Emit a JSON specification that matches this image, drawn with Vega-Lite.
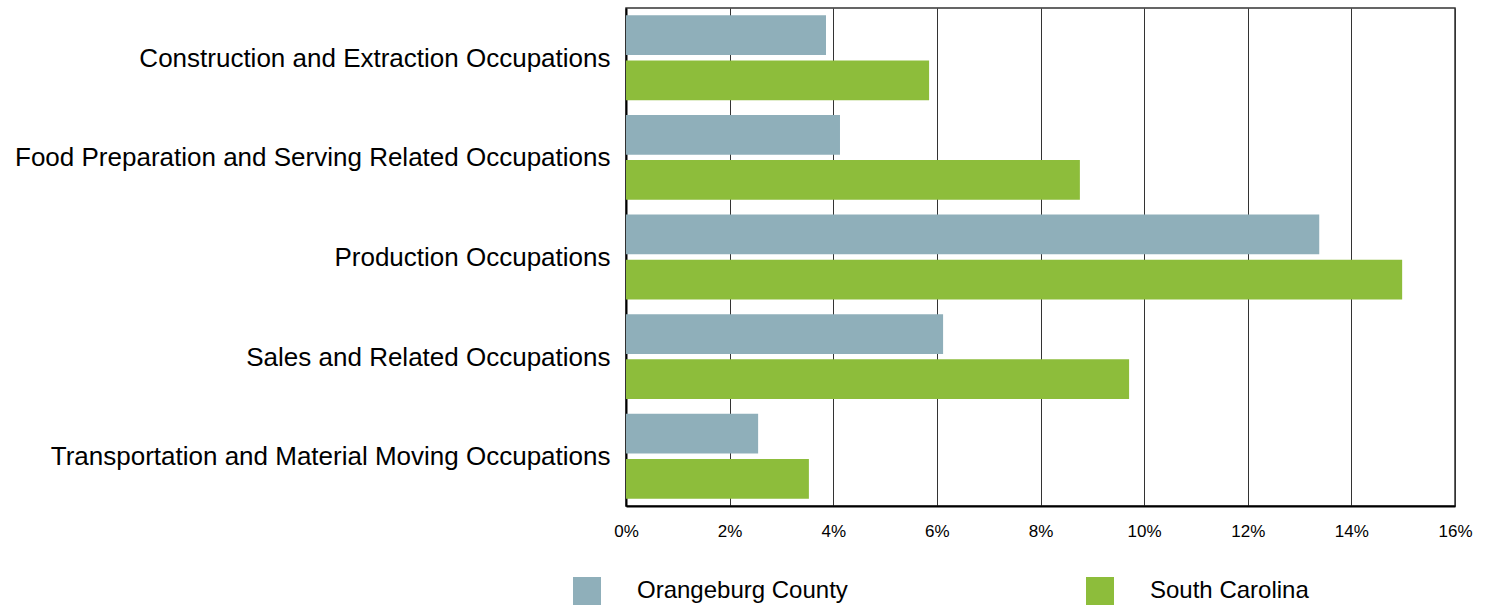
{
  "$schema": "https://vega.github.io/schema/vega-lite/v6.json",
  "autosize": {"type": "none"},
  "padding": {"left": 626, "top": 8, "right": 31, "bottom": 100},
  "width": 829,
  "height": 498,
  "background": "white",
  "config": {
    "font": "Liberation Sans",
    "view": {"stroke": "#333333", "strokeWidth": 1.5}
  },
  "data": {
    "values": [
      {"occupation": "Construction and Extraction Occupations", "area": "Orangeburg County", "share": 0.0386},
      {"occupation": "Construction and Extraction Occupations", "area": "South Carolina", "share": 0.0585},
      {"occupation": "Food Preparation and Serving Related Occupations", "area": "Orangeburg County", "share": 0.0413},
      {"occupation": "Food Preparation and Serving Related Occupations", "area": "South Carolina", "share": 0.0876},
      {"occupation": "Production Occupations", "area": "Orangeburg County", "share": 0.1338},
      {"occupation": "Production Occupations", "area": "South Carolina", "share": 0.1498},
      {"occupation": "Sales and Related Occupations", "area": "Orangeburg County", "share": 0.0612},
      {"occupation": "Sales and Related Occupations", "area": "South Carolina", "share": 0.0971},
      {"occupation": "Transportation and Material Moving Occupations", "area": "Orangeburg County", "share": 0.0255},
      {"occupation": "Transportation and Material Moving Occupations", "area": "South Carolina", "share": 0.0353}
    ]
  },
  "mark": {"type": "bar"},
  "encoding": {
    "y": {
      "field": "occupation",
      "type": "nominal",
      "sort": null,
      "title": null,
      "scale": {"paddingInner": 0.147, "paddingOuter": 0.073},
      "axis": {
        "labelFontSize": 26,
        "labelColor": "#000000",
        "labelPadding": 16,
        "labelLimit": 700,
        "labelBaseline": "middle",
        "labelOffset": 1,
        "ticks": false,
        "domainColor": "#000000",
        "domainWidth": 2,
        "grid": false
      }
    },
    "yOffset": {
      "field": "area",
      "type": "nominal",
      "scale": {"paddingInner": 0.12}
    },
    "x": {
      "field": "share",
      "type": "quantitative",
      "title": null,
      "scale": {"domain": [0, 0.16], "nice": false},
      "axis": {
        "values": [0, 0.02, 0.04, 0.06, 0.08, 0.1, 0.12, 0.14, 0.16],
        "format": ".0%",
        "labelFontSize": 17,
        "labelColor": "#000000",
        "labelPadding": 17,
        "labelFlush": false,
        "labelOverlap": false,
        "ticks": false,
        "domainColor": "#000000",
        "domainWidth": 2,
        "grid": true,
        "gridColor": "#333333",
        "gridWidth": 1,
        "gridOpacity": 1
      }
    },
    "color": {
      "field": "area",
      "type": "nominal",
      "title": null,
      "scale": {"domain": ["Orangeburg County", "South Carolina"], "range": ["#8FAFBA", "#8DBD3B"]},
      "legend": {
        "orient": "none",
        "direction": "horizontal",
        "legendX": -53,
        "legendY": 569,
        "padding": 0,
        "symbolType": "square",
        "symbolSize": 784,
        "symbolStrokeWidth": 0,
        "symbolOpacity": 1,
        "labelFontSize": 24,
        "labelColor": "#000000",
        "labelOffset": 36,
        "columnPadding": 238,
        "labelLimit": 400
      }
    }
  }
}
